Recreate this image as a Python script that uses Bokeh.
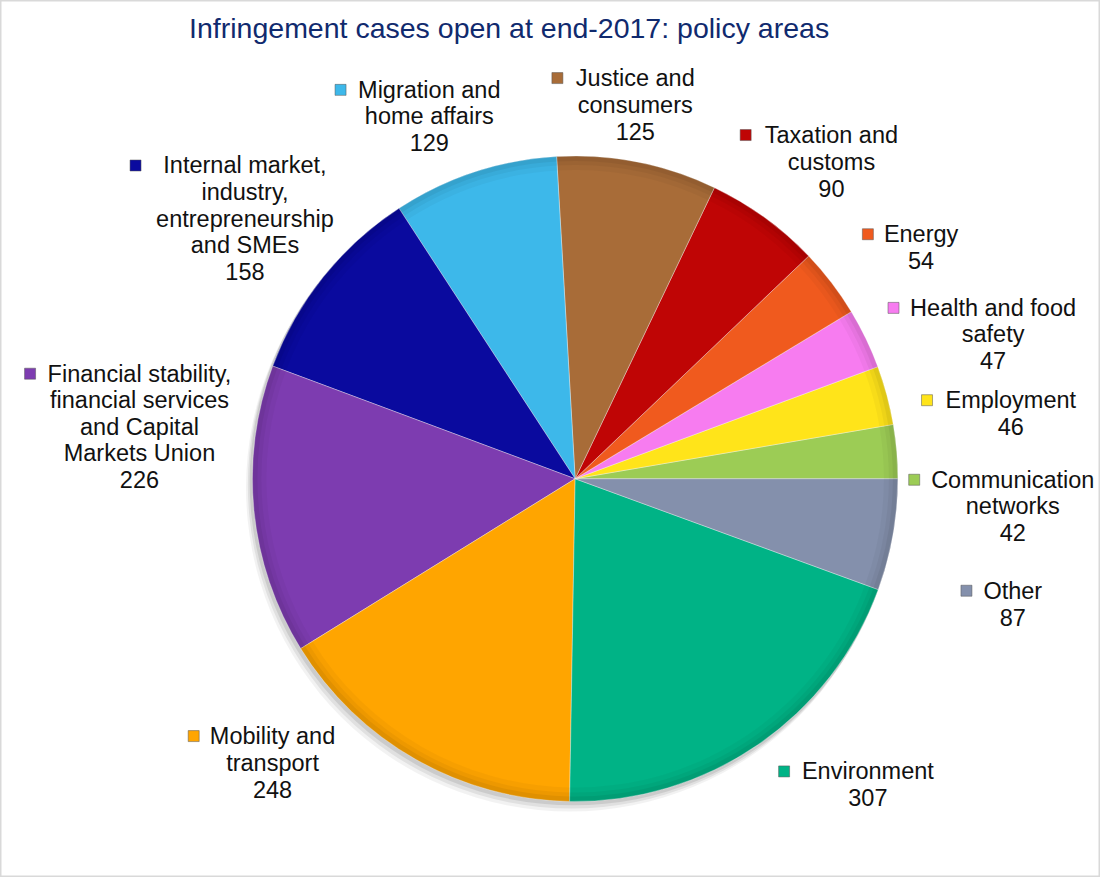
import math
from bokeh.plotting import figure
from bokeh.models import Range1d
from bokeh.embed import file_html
from bokeh.resources import INLINE
from bokeh.core.properties import value

# ---- data (counter-clockwise from 3 o'clock) ----
categories = [
    "Communication\nnetworks",
    "Employment",
    "Health and food\nsafety",
    "Energy",
    "Taxation and\ncustoms",
    "Justice and\nconsumers",
    "Migration and\nhome affairs",
    "Internal market,\nindustry,\nentrepreneurship\nand SMEs",
    "Financial stability,\nfinancial services\nand Capital\nMarkets Union",
    "Mobility and\ntransport",
    "Environment",
    "Other",
]
cases = [42, 46, 47, 54, 90, 125, 129, 158, 226, 248, 307, 87]
colors = ["#9ccc55", "#ffe41a", "#f77cf0", "#f05a1e", "#bf0505", "#a86c38",
          "#3db8ea", "#0a0a9e", "#7d3cb0", "#ffa500", "#00b386", "#8490ac"]
title_text = "Infringement cases open at end-2017: policy areas"

# ---- layout (reference pixel coordinates, scaled to the figure) ----
W, H = 1100, 877
SX, SY = W / 1116, H / 893
S = (SX + SY) / 2
def X(px):
    return px * SX
def Y(py):
    return H - py * SY

cx, cy, R = 583, 487, 328
# label block: centre x, first-line y, marker x
label_cx = [1027, 1025, 1007, 934, 843, 644, 435, 248, 141, 276, 880, 1027]
label_y0 = [488, 407, 313, 238, 137, 79, 91, 168, 380, 749, 785, 601]
marker_x = [927, 940, 906, 880, 756, 565, 345, 137, 30, 196, 795, 980]
LINE = 27

p = figure(width=W, height=H, output_backend="svg", toolbar_location=None,
           x_range=Range1d(0, W), y_range=Range1d(0, H),
           min_border=0, tools="")
p.axis.visible = False
p.grid.visible = False
p.outline_line_color = "#d9d9d9"
p.outline_line_width = 2
p.background_fill_color = "white"
p.border_fill_color = "white"

total = sum(cases)
starts, ends = [], []
acc = 0.0
for v in cases:
    starts.append(acc / total * 2 * math.pi)
    acc += v
    ends.append(acc / total * 2 * math.pi)

PX, PY, PR = X(cx), Y(cy), R * S
n = len(cases)

# soft shadow toward bottom-left
for k, a in [(9, 0.05), (6, 0.07), (3, 0.09)]:
    p.circle(x=[PX - k * 0.6], y=[PY - k], radius=PR + 1, fill_color="#000000",
             fill_alpha=a, line_color=None)

p.wedge(x=[PX] * n, y=[PY] * n, radius=PR,
        start_angle=starts, end_angle=ends, direction="anticlock",
        fill_color=colors, line_color="#ffffff", line_alpha=0.35, line_width=1)
# subtle darkening toward the rim
for k, a in [(14, 0.03), (9, 0.04), (5, 0.05)]:
    p.annular_wedge(x=[PX] * n, y=[PY] * n, inner_radius=PR - k,
                    outer_radius=PR, start_angle=starts, end_angle=ends,
                    direction="anticlock", fill_color="#000000", fill_alpha=a,
                    line_color=None)

# labels
tx, ty, tt = [], [], []
for i, cat in enumerate(categories):
    lines = cat.split("\n") + [str(cases[i])]
    for j, ln in enumerate(lines):
        tx.append(X(label_cx[i]))
        ty.append(Y(label_y0[i] + j * LINE))
        tt.append(ln)
p.text(x=tx, y=ty, text=tt, text_align="center", text_baseline="middle",
       text_font=value("Liberation Sans"), text_font_size="23.5px",
       text_color="#111111")

p.scatter(x=[X(v) for v in marker_x], y=[Y(v) for v in label_y0],
          marker="square", size=11, fill_color=colors, line_color="#555555",
          line_alpha=0.5, line_width=1)

p.text(x=[X(516)], y=[Y(28)], text=[title_text], text_align="center",
       text_baseline="middle", text_font=value("Liberation Sans"),
       text_font_size="28.5px", text_color="#102a6e")

open("out.html", "w").write(file_html(p, INLINE))
